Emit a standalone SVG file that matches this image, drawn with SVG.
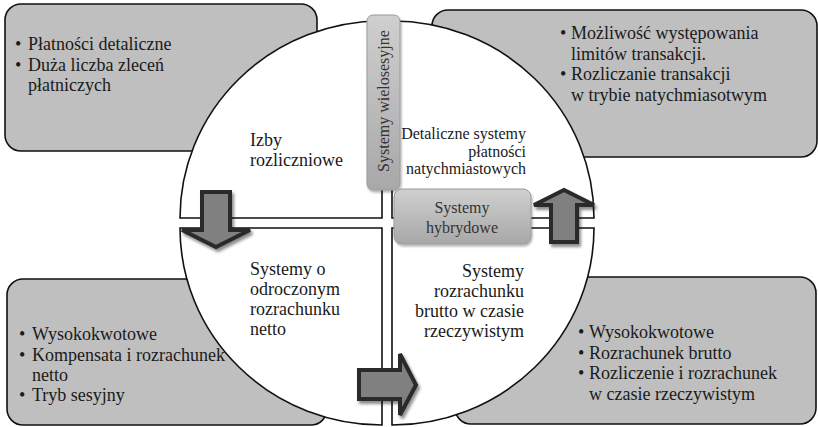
<svg xmlns="http://www.w3.org/2000/svg" width="818" height="427" viewBox="0 0 818 427">
<style>
.box{fill:#bfbfbf;stroke:#111;stroke-width:1.6}
.q{fill:#fff;stroke:#111;stroke-width:1.6}
.t{font-family:"Liberation Serif","Times New Roman",serif;font-size:18px;fill:#1a1a1a}
.s{font-family:"Liberation Serif","Times New Roman",serif;font-size:16px;fill:#1a1a1a}
.e{text-anchor:end}
.m{text-anchor:middle}
.arr{fill:#808080;stroke:#2a2a2a;stroke-width:4;stroke-linejoin:miter;filter:url(#sh)}
.pill{fill:url(#pg);stroke:#9a9a9a;stroke-width:1;filter:url(#sh2)}
</style>
<defs>
<filter id="sh" x="-30%" y="-30%" width="160%" height="160%">
<feDropShadow dx="2" dy="3" stdDeviation="1.5" flood-color="#000" flood-opacity="0.45"/>
</filter>
<filter id="sh2" x="-30%" y="-30%" width="160%" height="160%">
<feDropShadow dx="1" dy="2" stdDeviation="1.2" flood-color="#000" flood-opacity="0.3"/>
</filter>
<linearGradient id="pg" x1="0" y1="0" x2="0" y2="1">
<stop offset="0" stop-color="#cfcfcf"/>
<stop offset="1" stop-color="#a8a8a8"/>
</linearGradient>
</defs>

<g id="box-tl"><rect class="box" x="5" y="4" width="312" height="147" rx="16"/></g>
<g id="box-tr"><rect class="box" x="432" y="10" width="385" height="147" rx="16"/></g>
<g id="box-bl"><rect class="box" x="7" y="279" width="320" height="146" rx="16"/></g>
<g id="box-br"><rect class="box" x="455" y="277" width="361" height="147" rx="16"/></g>

<g id="q-tl"><path class="q" d="M382 218 L180 218 A202 197 0 0 1 382 21 Z"/></g>
<g id="q-tr"><path class="q" d="M392 218 L392 21 A202 197 0 0 1 594 218 Z"/></g>
<g id="q-br"><path class="q" d="M392 228 L594 228 A202 197 0 0 1 392 425 Z"/></g>
<g id="q-bl"><path class="q" d="M382 228 L382 425 A202 197 0 0 1 180 228 Z"/></g>

<g id="text-tl">
<text class="t" x="15" y="50">•</text>
<text class="t" x="28" y="50">Płatności detaliczne</text>
<text class="t" x="15" y="70.5">•</text>
<text class="t" x="28" y="70.5">Duża liczba zleceń</text>
<text class="t" x="28" y="91">płatniczych</text>
</g>
<g id="text-tr">
<text class="t" x="560" y="39">•</text>
<text class="t" x="571" y="39">Możliwość występowania</text>
<text class="t" x="571" y="59.5">limitów transakcji.</text>
<text class="t" x="560" y="80">•</text>
<text class="t" x="571" y="80">Rozliczanie transakcji</text>
<text class="t" x="571" y="100.5">w trybie natychmiasotwym</text>
</g>
<g id="text-bl">
<text class="t" x="19" y="340">•</text>
<text class="t" x="32" y="340">Wysokokwotowe</text>
<text class="t" x="19" y="360.5">•</text>
<text class="t" x="32" y="360.5">Kompensata i rozrachunek</text>
<text class="t" x="32" y="381">netto</text>
<text class="t" x="19" y="401">•</text>
<text class="t" x="32" y="401">Tryb sesyjny</text>
</g>
<g id="text-br">
<text class="t" x="578" y="338">•</text>
<text class="t" x="589" y="338">Wysokokwotowe</text>
<text class="t" x="578" y="358.5">•</text>
<text class="t" x="589" y="358.5">Rozrachunek brutto</text>
<text class="t" x="578" y="379">•</text>
<text class="t" x="589" y="379">Rozliczenie i rozrachunek</text>
<text class="t" x="589" y="399.5">w czasie rzeczywistym</text>
</g>

<g id="label-tl">
<text class="t" x="250" y="146">Izby</text>
<text class="t" x="250" y="166">rozliczniowe</text>
</g>
<g id="label-tr">
<text class="s e" x="526" y="139">Detaliczne systemy</text>
<text class="s e" x="526" y="156.5">płatności</text>
<text class="s e" x="526" y="174">natychmiastowych</text>
</g>
<g id="label-bl">
<text class="t" x="250" y="275">Systemy o</text>
<text class="t" x="250" y="295">odroczonym</text>
<text class="t" x="250" y="315">rozrachunku</text>
<text class="t" x="250" y="335">netto</text>
</g>
<g id="label-br">
<text class="t e" x="524" y="277">Systemy</text>
<text class="t e" x="524" y="297">rozrachunku</text>
<text class="t e" x="524" y="317">brutto w czasie</text>
<text class="t e" x="524" y="337">rzeczywistym</text>
</g>

<g id="pill-wielosesyjne">
<rect class="pill" x="367" y="15" width="33" height="175" rx="6"/>
<text class="s m" transform="translate(389 101) rotate(-90)" style="fill:#333">Systemy wielosesyjne</text>
</g>
<g id="pill-hybrydowe">
<rect class="pill" x="394" y="189" width="137" height="55" rx="8"/>
<text class="s m" x="462" y="213" style="fill:#333">Systemy</text>
<text class="s m" x="462" y="233" style="fill:#333">hybrydowe</text>
</g>

<g id="connectors">
<polygon class="arr" points="202,192 230,192 230,230 250,230 216,247 182,230 202,230"/>
<polygon class="arr" points="551,242 577,242 577,205 594,205 564,190 534,205 551,205"/>
<polygon class="arr" points="359,370 400,370 400,354 416,385 400,415 400,399 359,399"/>
</g>
</svg>
